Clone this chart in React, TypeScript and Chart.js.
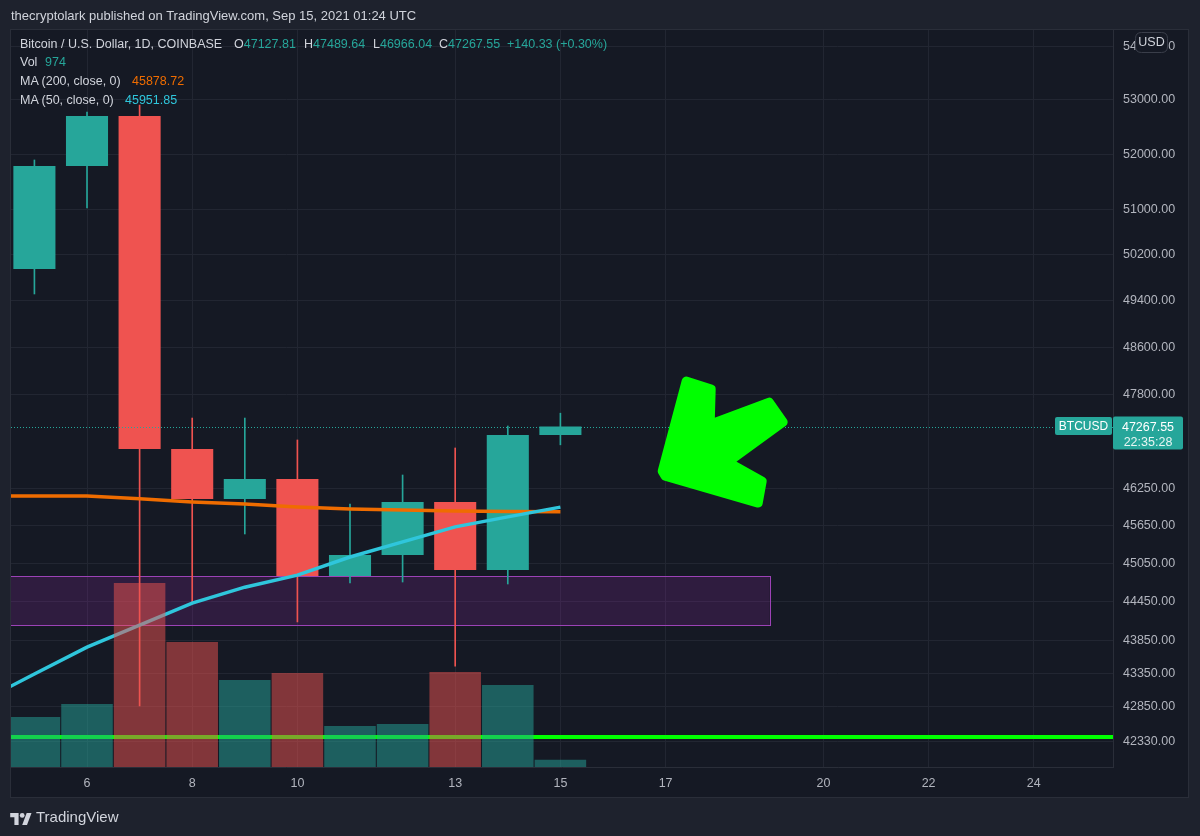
import React, { useEffect, useRef } from "react";
import { Chart, registerables } from "chart.js";

Chart.register(...registerables);

// ---------------- data ----------------
const days = [5, 6, 7, 8, 9, 10, 11, 12, 13, 14, 15];
const opens = [49952, 51788, 52704, 46898, 46083, 46407, 44856, 45187, 46035, 44950, 47127.81];
const highs = [51897, 52777, 52907, 47409, 47409, 47046, 46002, 46472, 46914, 47277, 47489.64];
const lows = [49516, 51031, 42859, 44418, 45521, 44139, 44746, 44761, 43460, 44730, 46966.04];
const closes = [51788, 52704, 46898, 46083, 46407, 44856, 45187, 46035, 44950, 47127.81, 47267.55];
const volumes = [6790, 8550, 24970, 16960, 11810, 12760, 5560, 5840, 12890, 11130, 974];

const maDays = [4, 5, 6, 7, 8, 9, 10, 11, 12, 13, 14, 15];
const ma200 = [46130, 46130, 46130, 46085, 46035, 46000, 45954, 45922, 45906, 45890, 45882, 45878.72];
const ma50 = [42930, 43340, 43750, 44090, 44430, 44680, 44870, 45155, 45395, 45635, 45795, 45951.85];

const priceTicks = [54000, 53000, 52000, 51000, 50200, 49400, 48600, 47800, 46250, 45650, 45050, 44450, 43850, 43350, 42850, 42330];
const dayTicks = [6, 8, 10, 13, 15, 17, 20, 22, 24];

const priceMin = 41951;
const priceMax = 54316;
const dayMin = 4.555;
const dayMax = 25.506;
const volumeMax = 100000;

const supportLevel = 42395;
const zoneTop = 44856;
const zoneBottom = 44090;
const zoneStartDay = 3;
const zoneEndDay = 18.98;
const lastClose = 47267.55;
const arrowTip = { day: 16.84, price: 46470 };
const arrowShape = [
  [5, -4], [29, -94], [54, -86], [53, -51], [112, -73], [126, -53],
  [71, -13], [105, 6], [101, 28], [8, 1],
];

// ---------------- styles ----------------
const FONT = "'Liberation Sans', Arial, sans-serif";
const OUTER_BG = "#1e222d";
const PANEL_BG = "#151924";
const GRID = "#222632";
const BORDER = "#2a2e39";
const TEXT = "#d1d4dc";
const AXIS_TEXT = "#b2b5be";
const UP = "#26a69a";
const DOWN = "#ef5350";
const UP_VOL = "rgba(38,166,154,0.5)";
const DOWN_VOL = "rgba(239,83,80,0.5)";
const MA200_C = "#ef6c00";
const MA50_C = "#2fc6dc";
const NEON = "#00ff00";

const isUp = (i: number) => closes[i] >= opens[i];

function roundRect(ctx: CanvasRenderingContext2D, x: number, y: number, w: number, h: number, r: number) {
  ctx.beginPath();
  ctx.moveTo(x + r, y);
  ctx.lineTo(x + w - r, y);
  ctx.quadraticCurveTo(x + w, y, x + w, y + r);
  ctx.lineTo(x + w, y + h - r);
  ctx.quadraticCurveTo(x + w, y + h, x + w - r, y + h);
  ctx.lineTo(x + r, y + h);
  ctx.quadraticCurveTo(x, y + h, x, y + h - r);
  ctx.lineTo(x, y + r);
  ctx.quadraticCurveTo(x, y, x + r, y);
  ctx.closePath();
}

const decor = {
  id: "decor",
  beforeDraw(chart: any) {
    const { ctx, chartArea: a } = chart;
    ctx.save();
    ctx.fillStyle = OUTER_BG;
    ctx.fillRect(0, 0, chart.width, chart.height);
    ctx.fillStyle = PANEL_BG;
    ctx.fillRect(a.left, a.top, a.right + 75 - a.left, a.bottom + 30 - a.top);
    ctx.strokeStyle = BORDER;
    ctx.lineWidth = 1;
    ctx.strokeRect(a.left - 0.5, a.top - 0.5, a.right + 75 - a.left + 1, a.bottom + 30 - a.top + 1);
    ctx.restore();
  },
  beforeDatasetsDraw(chart: any) {
    const { ctx, chartArea: a, scales } = chart;
    const x = scales.x, y = scales.y;
    ctx.save();
    ctx.beginPath();
    ctx.rect(a.left, a.top, a.right - a.left, a.bottom - a.top);
    ctx.clip();
    const x1 = x.getPixelForValue(zoneStartDay);
    const x2 = x.getPixelForValue(zoneEndDay);
    const yT = y.getPixelForValue(zoneTop);
    const yB = y.getPixelForValue(zoneBottom);
    ctx.fillStyle = "rgba(156,39,176,0.2)";
    ctx.fillRect(x1, yT, x2 - x1, yB - yT);
    ctx.strokeStyle = "#9c42b6";
    ctx.lineWidth = 1;
    ctx.strokeRect(Math.round(x1) + 0.5, Math.round(yT) + 0.5, Math.round(x2 - x1), Math.round(yB - yT));
    ctx.restore();
  },
  afterDatasetsDraw(chart: any) {
    const { ctx, chartArea: a, scales } = chart;
    const x = scales.x, y = scales.y;
    ctx.save();
    ctx.beginPath();
    ctx.rect(a.left, a.top, a.right - a.left, a.bottom - a.top);
    ctx.clip();
    // last price dotted line
    const py = Math.round(y.getPixelForValue(lastClose)) + 0.5;
    ctx.strokeStyle = UP;
    ctx.lineWidth = 1;
    ctx.setLineDash([1, 2]);
    ctx.beginPath();
    ctx.moveTo(a.left, py);
    ctx.lineTo(a.right, py);
    ctx.stroke();
    ctx.setLineDash([]);
    // arrow drawing
    const tx = x.getPixelForValue(arrowTip.day);
    const ty = y.getPixelForValue(arrowTip.price);
    ctx.beginPath();
    arrowShape.forEach(([dx, dy], i) => {
      if (i === 0) ctx.moveTo(tx + dx, ty + dy);
      else ctx.lineTo(tx + dx, ty + dy);
    });
    ctx.closePath();
    ctx.fillStyle = NEON;
    ctx.strokeStyle = NEON;
    ctx.lineJoin = "round";
    ctx.lineWidth = 9;
    ctx.fill();
    ctx.stroke();
    ctx.restore();
  },
  afterDraw(chart: any) {
    const { ctx, chartArea: a, scales } = chart;
    const y = scales.y;
    const py = y.getPixelForValue(lastClose);
    ctx.save();
    // BTCUSD badge
    ctx.fillStyle = UP;
    roundRect(ctx, a.right - 58, py - 9.5, 57, 18, 2);
    ctx.fill();
    ctx.fillStyle = "#ffffff";
    ctx.font = `12px ${FONT}`;
    ctx.textAlign = "center";
    ctx.textBaseline = "middle";
    ctx.fillText("BTCUSD", a.right - 29.5, py);
    // price badge
    ctx.fillStyle = UP;
    roundRect(ctx, a.right, py - 10, 70, 33, 2);
    ctx.fill();
    ctx.fillStyle = "#ffffff";
    ctx.font = `12.5px ${FONT}`;
    ctx.fillText(lastClose.toFixed(2), a.right + 35, py + 0.5);
    ctx.fillStyle = "#e8f5f3";
    ctx.fillText("22:35:28", a.right + 35, py + 15.5);
    // USD badge
    ctx.fillStyle = PANEL_BG;
    roundRect(ctx, a.right + 22.5, a.top + 2.5, 32, 20, 6);
    ctx.fill();
    ctx.strokeStyle = "#3a3e4a";
    ctx.lineWidth = 1;
    ctx.stroke();
    ctx.fillStyle = TEXT;
    ctx.font = `12.5px ${FONT}`;
    ctx.fillText("USD", a.right + 38.5, a.top + 13);
    ctx.restore();
  },
};

function buildConfig(): any {
  return {
    type: "bar",
    data: {
      datasets: [
        {
          type: "bar",
          label: "Volume",
          data: days.map((d, i) => ({ x: d, y: volumes[i] })),
          yAxisID: "yVol",
          backgroundColor: days.map((_, i) => (isUp(i) ? UP_VOL : DOWN_VOL)),
          borderWidth: 0,
          barPercentage: 0.98,
          categoryPercentage: 1,
          grouped: false,
          order: 0,
        },
        {
          type: "line",
          label: "MA (50, close, 0)",
          data: maDays.map((d, i) => ({ x: d, y: ma50[i] })),
          yAxisID: "y",
          borderColor: MA50_C,
          borderWidth: 3.5,
          pointRadius: 0,
          tension: 0,
          order: 1,
        },
        {
          type: "line",
          label: "MA (200, close, 0)",
          data: maDays.map((d, i) => ({ x: d, y: ma200[i] })),
          yAxisID: "y",
          borderColor: MA200_C,
          borderWidth: 3.5,
          pointRadius: 0,
          tension: 0,
          order: 1,
        },
        {
          type: "bar",
          label: "Body",
          data: days.map((d, i) => ({ x: d, y: [opens[i], closes[i]] })),
          yAxisID: "y",
          backgroundColor: days.map((_, i) => (isUp(i) ? UP : DOWN)),
          borderWidth: 0,
          barPercentage: 0.8,
          categoryPercentage: 1,
          grouped: false,
          order: 2,
        },
        {
          type: "bar",
          label: "Wick",
          data: days.map((d, i) => ({ x: d, y: [lows[i], highs[i]] })),
          yAxisID: "y",
          backgroundColor: days.map((_, i) => (isUp(i) ? UP : DOWN)),
          borderWidth: 0,
          barThickness: 1,
          grouped: false,
          order: 3,
        },
        {
          type: "line",
          label: "Support",
          data: [
            { x: dayMin - 2, y: supportLevel },
            { x: dayMax + 2, y: supportLevel },
          ],
          yAxisID: "y",
          borderColor: NEON,
          borderWidth: 4,
          pointRadius: 0,
          order: 4,
        },
      ],
    },
    options: {
      responsive: false,
      maintainAspectRatio: false,
      animation: false,
      events: [],
      layout: { padding: { left: 11, top: 30, right: 12, bottom: 39 } },
      plugins: { legend: { display: false }, tooltip: { enabled: false } },
      scales: {
        x: {
          type: "linear",
          min: dayMin,
          max: dayMax,
          bounds: "data",
          offset: false,
          grid: { color: GRID, drawTicks: false, offset: false },
          border: { color: BORDER },
          afterBuildTicks: (s: any) => {
            s.ticks = dayTicks.map((v) => ({ value: v }));
          },
          afterFit: (s: any) => {
            s.height = 30;
          },
          ticks: {
            autoSkip: false,
            maxRotation: 0,
            padding: 9,
            color: AXIS_TEXT,
            font: { family: FONT, size: 12.5 },
            callback: (v: any) => String(v),
          },
        },
        y: {
          type: "logarithmic",
          position: "right",
          min: priceMin,
          max: priceMax,
          bounds: "data",
          grid: { color: GRID, drawTicks: false },
          border: { color: BORDER },
          afterBuildTicks: (s: any) => {
            s.ticks = priceTicks.map((v) => ({ value: v }));
          },
          afterFit: (s: any) => {
            s.width = 75;
          },
          ticks: {
            autoSkip: false,
            padding: 10,
            color: AXIS_TEXT,
            font: { family: FONT, size: 12.5 },
            callback: (v: any) => Number(v).toFixed(2),
          },
        },
        yVol: {
          type: "linear",
          display: false,
          min: 0,
          max: volumeMax,
        },
      },
    },
    plugins: [decor],
  };
}

type TProps = { x: number; y: number; size?: number; color?: string; children: React.ReactNode };
const T = ({ x, y, size = 12.5, color = TEXT, children }: TProps) => (
  <div
    style={{
      position: "absolute",
      left: x,
      top: y - Math.round(size * 0.6),
      fontSize: size,
      lineHeight: `${Math.round(size * 1.2)}px`,
      color,
      whiteSpace: "nowrap",
    }}
  >
    {children}
  </div>
);

export default function App() {
  const ref = useRef<HTMLCanvasElement>(null);
  useEffect(() => {
    document.body.style.margin = "0";
    const chart = new Chart(ref.current as HTMLCanvasElement, buildConfig());
    return () => chart.destroy();
  }, []);
  const teal = UP;
  return (
    <div
      style={{
        position: "relative",
        width: 1200,
        height: 836,
        background: OUTER_BG,
        overflow: "hidden",
        fontFamily: FONT,
      }}
    >
      <canvas ref={ref} width={1200} height={836} style={{ position: "absolute", left: 0, top: 0, width: 1200, height: 836 }} />
      <T x={11} y={16} size={13}>thecryptolark published on TradingView.com, Sep 15, 2021 01:24 UTC</T>
      <T x={20} y={45}>Bitcoin / U.S. Dollar, 1D, COINBASE</T>
      <T x={234} y={45}>O<span style={{ color: teal }}>47127.81</span></T>
      <T x={304} y={45}>H<span style={{ color: teal }}>47489.64</span></T>
      <T x={373} y={45}>L<span style={{ color: teal }}>46966.04</span></T>
      <T x={439} y={45}>C<span style={{ color: teal }}>47267.55</span></T>
      <T x={507} y={45} color={teal}>+140.33 (+0.30%)</T>
      <T x={20} y={63}>Vol</T>
      <T x={45} y={63} color={teal}>974</T>
      <T x={20} y={82}>MA (200, close, 0)</T>
      <T x={132} y={82} color={MA200_C}>45878.72</T>
      <T x={20} y={101}>MA (50, close, 0)</T>
      <T x={125} y={101} color={MA50_C}>45951.85</T>
      <div style={{ position: "absolute", left: 10, top: 811 }}>
        <svg width="22" height="12" viewBox="0 0 36 20">
          <path d="M14 20H7V7H0V0h14z" fill={TEXT} />
          <circle cx="20" cy="4" r="4" fill={TEXT} />
          <path d="M28 20h-8l7.5-20h8z" fill={TEXT} />
        </svg>
      </div>
      <T x={36} y={817} size={15}>TradingView</T>
    </div>
  );
}
